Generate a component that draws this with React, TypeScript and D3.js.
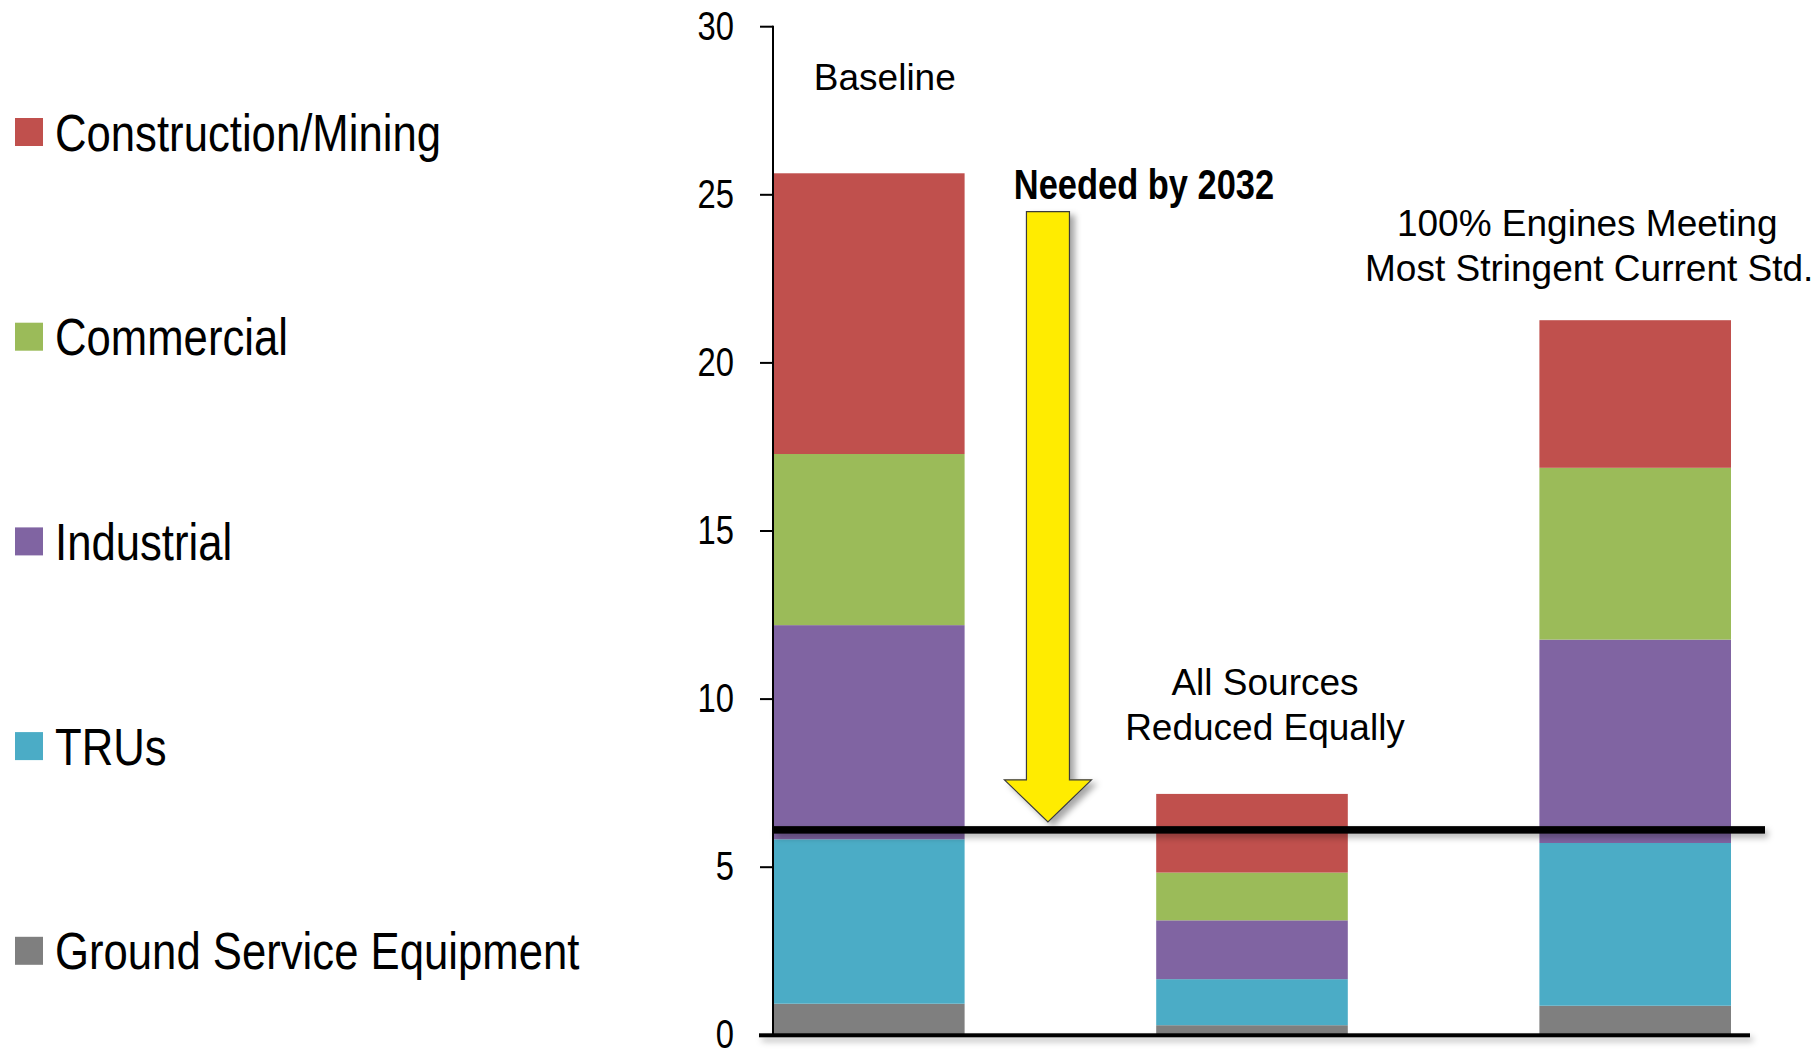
import React from "react";
import * as d3 from "d3";

// ---- data ----
const categories = ["Baseline", "All Sources Reduced Equally", "100% Engines Meeting Most Stringent Current Std."];
const seriesNames = ["Ground Service Equipment", "TRUs", "Industrial", "Commercial", "Construction/Mining"];
const gseValues = [0.94, 0.3, 0.88];
const truValues = [4.89, 1.37, 4.84];
const industrialValues = [6.37, 1.75, 6.05];
const commercialValues = [5.09, 1.42, 5.11];
const constructionValues = [8.35, 2.34, 4.39];
const seriesColors = ["#7F7F7F", "#4BACC6", "#8064A2", "#9BBB59", "#C0504D"];
const legendOrder = ["Construction/Mining", "Commercial", "Industrial", "TRUs", "Ground Service Equipment"];
const yTicks = [0, 5, 10, 15, 20, 25, 30];
const targetLevel = 6.11;
const arrowTopValue = 24.5;
const arrowTipValue = 6.35;

const W = 1820;
const H = 1051;
const FONT = "'Liberation Sans', Arial, Helvetica, sans-serif";
const NARROW = 0.82;
const LEGEND_NARROW = 0.84;

export default function App() {
  const y = d3.scaleLinear().domain([0, 30]).range([1035.3, 26.7]);
  const x = d3.scaleBand<string>().domain(categories).range([773, 1731]).paddingInner(0.5).paddingOuter(0);

  const rows = categories.map((c, i) => ({
    cat: c,
    "Ground Service Equipment": gseValues[i],
    TRUs: truValues[i],
    Industrial: industrialValues[i],
    Commercial: commercialValues[i],
    "Construction/Mining": constructionValues[i],
  }));
  const stacked = d3.stack<any>().keys(seriesNames)(rows);
  const color = d3.scaleOrdinal<string, string>().domain(seriesNames).range(seriesColors);

  const axisX = x.range()[0];
  const bw = x.bandwidth();

  // arrow geometry (annotation) between bar 1 and bar 2
  const gapStart = (x(categories[0]) as number) + bw;
  const gapEnd = x(categories[1]) as number;
  const ax = gapStart + (gapEnd - gapStart) * 0.435;
  const shaftHalf = 21.5;
  const headHalf = 43.5;
  const yTop = y(arrowTopValue);
  const yTip = y(arrowTipValue);
  const yHead = yTip - 42;
  const arrowPath = d3.path();
  arrowPath.moveTo(ax - shaftHalf, yTop);
  arrowPath.lineTo(ax + shaftHalf, yTop);
  arrowPath.lineTo(ax + shaftHalf, yHead);
  arrowPath.lineTo(ax + headHalf, yHead);
  arrowPath.lineTo(ax, yTip);
  arrowPath.lineTo(ax - headHalf, yHead);
  arrowPath.lineTo(ax - shaftHalf, yHead);
  arrowPath.closePath();

  const legendY = d3.scalePoint<string>().domain(legendOrder).range([132, 950.8]);
  const yT = y(targetLevel);
  const y0 = y(0);

  return (
    <svg width={W} height={H} style={{ position: "absolute", left: 0, top: 0, background: "#fff" }} fontFamily={FONT}>
      <defs>
        <filter id="shadow" filterUnits="userSpaceOnUse" x="0" y="0" width={W} height={H}>
          <feDropShadow dx="3" dy="4" stdDeviation="3" floodColor="#000" floodOpacity="0.3" />
        </filter>
        <filter id="shadowArrow" filterUnits="userSpaceOnUse" x="0" y="0" width={W} height={H}>
          <feDropShadow dx="5" dy="4" stdDeviation="3" floodColor="#000" floodOpacity="0.35" />
        </filter>
      </defs>
      <rect x={0} y={0} width={W} height={H} fill="#fff" />

      {/* legend */}
      {legendOrder.map((name) => {
        const cy = legendY(name) as number;
        return (
          <g key={name}>
            <rect x={15} y={cy - 14} width={28} height={28} fill={color(name)} />
            <text transform={`translate(55,${cy + 18.5}) scale(${LEGEND_NARROW},1)`} fontSize={52} fill="#000">
              {name}
            </text>
          </g>
        );
      })}

      {/* bars */}
      {stacked.map((layer) => (
        <g key={layer.key} fill={color(layer.key)}>
          {layer.map((d: any) => (
            <rect
              key={d.data.cat}
              x={x(d.data.cat)}
              y={y(d[1])}
              width={bw}
              height={y(d[0]) - y(d[1])}
            />
          ))}
        </g>
      ))}

      {/* y axis */}
      <rect x={axisX - 1} y={y(30) - 1} width={2} height={y0 - y(30) + 1} fill="#000" />
      {yTicks.map((t) => (
        <g key={t}>
          <rect x={axisX - 13} y={y(t) - 1} width={13} height={2} fill="#000" />
          <text
            transform={`translate(${axisX - 39},${y(t) + 13}) scale(${NARROW},1)`}
            textAnchor="end"
            fontSize={40}
            fill="#000"
          >
            {t}
          </text>
        </g>
      ))}
      {/* x axis */}
      <rect x={axisX - 14} y={y0 - 2} width={1750 - (axisX - 14)} height={4} fill="#000" filter="url(#shadow)" />

      {/* target line */}
      <rect x={axisX} y={yT - 3.75} width={1765 - axisX} height={7.5} fill="#000" filter="url(#shadow)" />

      {/* arrow */}
      <path d={arrowPath.toString()} fill="#FFEC00" stroke="#3a3a3a" strokeWidth={1.2} filter="url(#shadowArrow)" />
      <text
        transform={`translate(${ax + 96},199) scale(${NARROW},1)`}
        textAnchor="middle"
        fontSize={42}
        fontWeight="bold"
        fill="#000"
      >
        Needed by 2032
      </text>

      {/* annotations */}
      <text x={(x(categories[0]) as number) + bw / 2 + 16} y={90} textAnchor="middle" fontSize={37} fill="#000">
        Baseline
      </text>
      <text textAnchor="middle" fontSize={37} fill="#000">
        <tspan x={(x(categories[1]) as number) + bw / 2 + 13} y={695}>All Sources</tspan>
        <tspan x={(x(categories[1]) as number) + bw / 2 + 13} y={740}>Reduced Equally</tspan>
      </text>
      <text textAnchor="middle" fontSize={37} fill="#000">
        <tspan x={(x(categories[2]) as number) + bw / 2 - 48} y={236}>100% Engines Meeting</tspan>
        <tspan x={(x(categories[2]) as number) + bw / 2 - 46} y={281}>Most Stringent Current Std.</tspan>
      </text>
    </svg>
  );
}
